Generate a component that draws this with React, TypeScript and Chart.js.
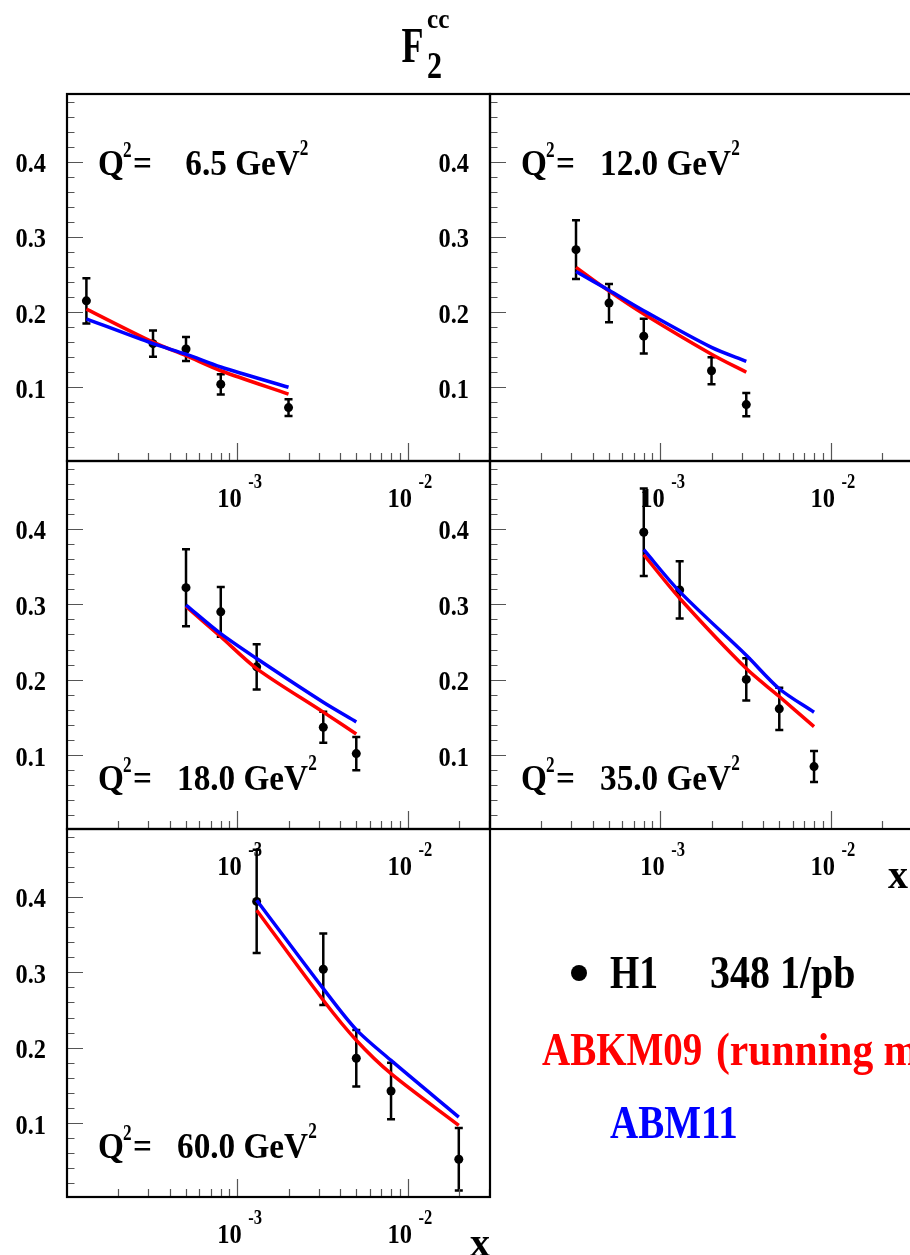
import { useEffect, useRef } from 'react';
import { Chart, registerables } from 'chart.js';

Chart.register(...registerables);

// ---------------- data ----------------
const Q2_VALUES = [6.5, 12.0, 18.0, 35.0, 60.0];

const X_Q2_6_5 = [1.3e-4, 3.2e-4, 5.0e-4, 8.0e-4, 2.0e-3];
const F2_Q2_6_5 = [0.215, 0.158, 0.151, 0.104, 0.073];
const ERR_Q2_6_5 = [0.030, 0.0175, 0.016, 0.0135, 0.011];
const ABKM_Q2_6_5 = [0.204, 0.160, 0.142, 0.122, 0.091];
const ABM_Q2_6_5 = [0.191, 0.158, 0.144, 0.127, 0.100];

const X_Q2_12 = [3.2e-4, 5.0e-4, 8.0e-4, 2.0e-3, 3.2e-3];
const F2_Q2_12 = [0.283, 0.212, 0.168, 0.122, 0.077];
const ERR_Q2_12 = [0.039, 0.0255, 0.023, 0.018, 0.0155];
const ABKM_Q2_12 = [0.2595, 0.228, 0.1975, 0.144, 0.120];
const ABM_Q2_12 = [0.254, 0.229, 0.2018, 0.153, 0.1345];

const X_Q2_18 = [5.0e-4, 8.0e-4, 1.3e-3, 3.2e-3, 5.0e-3];
const F2_Q2_18 = [0.322, 0.290, 0.217, 0.137, 0.102];
const ERR_Q2_18 = [0.051, 0.033, 0.030, 0.0205, 0.022];
const ABKM_Q2_18 = [0.297, 0.257, 0.2147, 0.157, 0.128];
const ABM_Q2_18 = [0.299, 0.261, 0.228, 0.170, 0.144];

const X_Q2_35 = [8.0e-4, 1.3e-3, 3.2e-3, 5.0e-3, 8.0e-3];
const F2_Q2_35 = [0.3955, 0.319, 0.2004, 0.1613, 0.0848];
const ERR_Q2_35 = [0.058, 0.038, 0.028, 0.028, 0.0205];
const ABKM_Q2_35 = [0.3657, 0.308, 0.2147, 0.1777, 0.1377];
const ABM_Q2_35 = [0.3724, 0.3168, 0.2324, 0.188, 0.1568];

const X_Q2_60 = [1.3e-3, 3.2e-3, 5.0e-3, 8.0e-3, 2.0e-2];
const F2_Q2_60 = [0.394, 0.304, 0.186, 0.1425, 0.052];
const ERR_Q2_60 = [0.0685, 0.0475, 0.0375, 0.0375, 0.0415];
const ABKM_Q2_60 = [0.3823, 0.2629, 0.2098, 0.1655, 0.0969];
const ABM_Q2_60 = [0.3956, 0.2784, 0.2239, 0.1832, 0.108];

const Y_TICK_LABELS = ['0.1', '0.2', '0.3', '0.4'];
const Y_TICK_VALUES = [0.1, 0.2, 0.3, 0.4];
const X_TICK_VALUES = [1e-3, 1e-2];
const X_TICK_EXPONENTS = ['-3', '-2'];

const LEGEND_DATA = 'H1';
const LEGEND_LUMI = '348 1/pb';
const LEGEND_ABKM = 'ABKM09';
const LEGEND_ABKM_NOTE = '(running mass)';
const LEGEND_ABM = 'ABM11';

const X_MIN = 1e-4;
const X_MAX = 0.0305;
const Y_MIN = 0.002;
const Y_MAX = 0.49;

const PANEL_DATA = [
  { q2: Q2_VALUES[0], x: X_Q2_6_5, f2: F2_Q2_6_5, err: ERR_Q2_6_5, abkm: ABKM_Q2_6_5, abm: ABM_Q2_6_5 },
  { q2: Q2_VALUES[1], x: X_Q2_12, f2: F2_Q2_12, err: ERR_Q2_12, abkm: ABKM_Q2_12, abm: ABM_Q2_12 },
  { q2: Q2_VALUES[2], x: X_Q2_18, f2: F2_Q2_18, err: ERR_Q2_18, abkm: ABKM_Q2_18, abm: ABM_Q2_18 },
  { q2: Q2_VALUES[3], x: X_Q2_35, f2: F2_Q2_35, err: ERR_Q2_35, abkm: ABKM_Q2_35, abm: ABM_Q2_35 },
  { q2: Q2_VALUES[4], x: X_Q2_60, f2: F2_Q2_60, err: ERR_Q2_60, abkm: ABKM_Q2_60, abm: ABM_Q2_60 },
];

// ---------------- layout ----------------
const CW = 920;
const CH = 1255;
const COLS = [67, 490, 913];
const ROWS = [94, 461, 829, 1197];
const PANEL_POS = [
  { c: 0, r: 0, labelTop: true, xLabel: false },
  { c: 1, r: 0, labelTop: true, xLabel: false },
  { c: 0, r: 1, labelTop: false, xLabel: false },
  { c: 1, r: 1, labelTop: false, xLabel: true },
  { c: 0, r: 2, labelTop: false, xLabel: true },
];

const FONT = '"Liberation Serif", "Times New Roman", serif';

function txt(ctx, s, x, y, size, sx, color = '#000', align = 'left') {
  ctx.save();
  ctx.font = `bold ${size}px ${FONT}`;
  ctx.fillStyle = color;
  ctx.textBaseline = 'alphabetic';
  ctx.textAlign = align;
  ctx.translate(x, y);
  ctx.scale(sx, 1);
  ctx.fillText(s, 0, 0);
  ctx.restore();
}

function txtWidth(ctx, s, size, sx) {
  ctx.save();
  ctx.font = `bold ${size}px ${FONT}`;
  const w = ctx.measureText(s).width * sx;
  ctx.restore();
  return w;
}

function makePanelPlugin(pd, pos) {
  return {
    id: 'panelDecor',
    beforeDatasetsDraw(chart) {
      const { ctx } = chart;
      const xs = chart.scales.x;
      const ys = chart.scales.y;
      ctx.save();
      ctx.strokeStyle = '#000';
      ctx.lineWidth = 2.5;
      for (let i = 0; i < pd.x.length; i++) {
        const px = xs.getPixelForValue(pd.x[i]);
        const y1 = ys.getPixelForValue(pd.f2[i] + pd.err[i]);
        const y2 = ys.getPixelForValue(pd.f2[i] - pd.err[i]);
        ctx.beginPath();
        ctx.moveTo(px, y1);
        ctx.lineTo(px, y2);
        ctx.moveTo(px - 4, y1);
        ctx.lineTo(px + 4, y1);
        ctx.moveTo(px - 4, y2);
        ctx.lineTo(px + 4, y2);
        ctx.stroke();
      }
      ctx.restore();
    },
    afterDatasetsDraw(chart) {
      const { ctx, chartArea: ca } = chart;
      const xs = chart.scales.x;
      const ys = chart.scales.y;
      ctx.save();
      // ticks
      ctx.strokeStyle = '#555';
      ctx.lineWidth = 1.2;
      ctx.beginPath();
      for (let k = 1; k <= 24; k++) {
        const v = k * 0.02;
        const py = Math.round(ys.getPixelForValue(v)) + 0.5;
        const len = k % 5 === 0 ? 16 : 7.5;
        ctx.moveTo(ca.left, py);
        ctx.lineTo(ca.left + len, py);
      }
      for (let d = -4; d <= -2; d++) {
        for (let m = 1; m <= 9; m++) {
          const v = m * Math.pow(10, d);
          if (v <= X_MIN * 1.001 || v >= X_MAX) continue;
          const px = Math.round(xs.getPixelForValue(v)) + 0.5;
          const len = m === 1 ? 18 : 8;
          ctx.moveTo(px, ca.bottom);
          ctx.lineTo(px, ca.bottom - len);
        }
      }
      ctx.stroke();
      // frame
      ctx.strokeStyle = '#000';
      ctx.lineWidth = 2.2;
      ctx.strokeRect(ca.left, ca.top, ca.right - ca.left, ca.bottom - ca.top);
      ctx.restore();

      // y tick labels
      Y_TICK_VALUES.forEach((v, i) => {
        const py = ys.getPixelForValue(v);
        txt(ctx, Y_TICK_LABELS[i], ca.left - 21, py + 10.5, 26.5, 0.92, '#000', 'right');
      });
      // x tick labels
      X_TICK_VALUES.forEach((v, i) => {
        const px = xs.getPixelForValue(v);
        txt(ctx, '10', px - 20, ca.bottom + 46, 27.5, 0.89);
        txt(ctx, X_TICK_EXPONENTS[i], px + 11, ca.bottom + 27, 22, 0.75);
      });
      // x axis label
      if (pos.xLabel) {
        const right = Math.min(ca.right, 908);
        txt(ctx, 'x', right, ca.bottom + 59, 40, 1.0, '#000', 'right');
      }
      // Q2 label
      const qx = ca.left + 31;
      const qy = pos.labelTop ? ca.top + 81 : ca.bottom - 39;
      txt(ctx, 'Q', qx, qy, 35, 0.95);
      txt(ctx, '2', qx + 25, qy - 18, 23, 0.75);
      txt(ctx, '=', qx + 35, qy, 35, 0.95);
      const num = pd.q2.toFixed(1);
      const s = (num.length < 4 ? ' ' : '') + num + ' GeV';
      txt(ctx, s, qx + 79, qy, 35, 0.95);
      const w = txtWidth(ctx, s, 35, 0.95);
      txt(ctx, '2', qx + 79 + w, qy - 20, 23, 0.75);
    },
  };
}

const globalPlugin = {
  id: 'globalDecor',
  afterDraw(chart) {
    const { ctx } = chart;
    // title F_2^cc
    txt(ctx, 'F', 401.5, 61.5, 50, 0.72);
    txt(ctx, '2', 427, 78, 38, 0.79);
    txt(ctx, 'cc', 427, 28, 28, 0.9);
    // legend
    ctx.save();
    ctx.fillStyle = '#000';
    ctx.beginPath();
    ctx.arc(579, 973, 8, 0, Math.PI * 2);
    ctx.fill();
    ctx.restore();
    txt(ctx, LEGEND_DATA, 610, 988, 47, 0.8);
    txt(ctx, LEGEND_LUMI, 710, 988, 47, 0.85);
    txt(ctx, LEGEND_ABKM, 542, 1065, 47, 0.83, '#ff0000');
    txt(ctx, LEGEND_ABKM_NOTE, 716, 1065, 47, 0.885, '#ff0000');
    txt(ctx, LEGEND_ABM, 610, 1138, 47, 0.83, '#0000ff');
  },
};

export default function App() {
  const refs = useRef([]);

  useEffect(() => {
    const charts = PANEL_DATA.map((pd, i) => {
      const pos = PANEL_POS[i];
      const left = COLS[pos.c];
      const right = COLS[pos.c + 1];
      const top = ROWS[pos.r];
      const bottom = ROWS[pos.r + 1];
      const plugins = [makePanelPlugin(pd, pos)];
      if (i === 4) plugins.push(globalPlugin);
      return new Chart(refs.current[i], {
        type: 'line',
        data: {
          datasets: [
            {
              label: LEGEND_ABM,
              data: pd.x.map((x, k) => ({ x, y: pd.abm[k] })),
              borderColor: '#0000ff',
              borderWidth: 3.5,
              pointRadius: 0,
              tension: 0.3,
              fill: false,
              order: 0,
            },
            {
              label: LEGEND_ABKM,
              data: pd.x.map((x, k) => ({ x, y: pd.abkm[k] })),
              borderColor: '#ff0000',
              borderWidth: 3.5,
              pointRadius: 0,
              tension: 0.3,
              fill: false,
              order: 1,
            },
            {
              label: LEGEND_DATA,
              data: pd.x.map((x, k) => ({ x, y: pd.f2[k] })),
              showLine: false,
              pointRadius: 4.5,
              pointBackgroundColor: '#000',
              pointBorderColor: '#000',
              pointBorderWidth: 0,
              order: 2,
            },
          ],
        },
        options: {
          animation: false,
          responsive: false,
          maintainAspectRatio: false,
          events: [],
          layout: {
            padding: { left, top, right: CW - right, bottom: CH - bottom },
          },
          scales: {
            x: { type: 'logarithmic', min: X_MIN, max: X_MAX, display: false },
            y: { type: 'linear', min: Y_MIN, max: Y_MAX, display: false },
          },
          plugins: {
            legend: { display: false },
            tooltip: { enabled: false },
            title: { display: false },
          },
        },
        plugins,
      });
    });
    return () => charts.forEach((c) => c.destroy());
  }, []);

  return (
    <div
      style={{
        position: 'absolute',
        left: 0,
        top: 0,
        width: 910,
        height: 1255,
        overflow: 'hidden',
        background: '#fff',
      }}
    >
      {PANEL_DATA.map((_, i) => (
        <canvas
          key={i}
          ref={(el) => {
            refs.current[i] = el;
          }}
          width={CW}
          height={CH}
          style={{ position: 'absolute', left: 0, top: 0, width: CW, height: CH }}
        />
      ))}
    </div>
  );
}
